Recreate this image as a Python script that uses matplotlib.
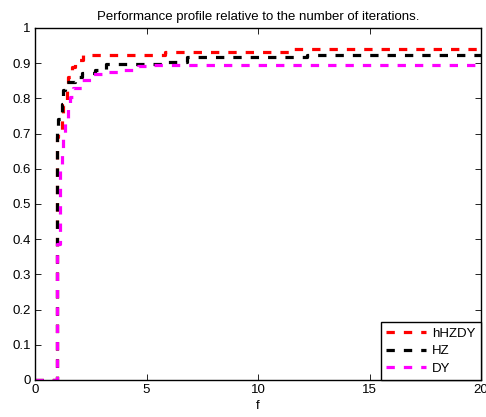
import numpy as np
import matplotlib
matplotlib.use('Agg')
import matplotlib.pyplot as plt

plt.rcParams['font.family'] = ['Liberation Sans', 'DejaVu Sans']
plt.rcParams['lines.scale_dashes'] = False

### performance profile data (tau, rho)
tau_hhzdy = [0, 1.0, 1.05, 1.19, 1.27, 1.42, 1.49, 1.64, 1.79, 2.15, 2.6, 5.85, 11.5, 20]
rho_hhzdy = [0, 0.69, 0.70, 0.742, 0.78, 0.823, 0.86, 0.889, 0.908, 0.924, 0.924, 0.931, 0.939, 0.939]

tau_hz = [0, 1.0, 1.05, 1.2, 1.27, 1.34, 1.78, 2.09, 2.7, 3.2, 5.8, 6.8, 12.2, 20]
rho_hz = [0, 0.709, 0.742, 0.785, 0.823, 0.846, 0.862, 0.873, 0.882, 0.898, 0.903, 0.917, 0.924, 0.924]

tau_dy = [0, 1.0, 1.12, 1.19, 1.27, 1.34, 1.49, 1.57, 1.71, 2.09, 2.54, 3.2, 3.95, 4.6, 5.3, 5.9, 20]
rho_dy = [0, 0.385, 0.605, 0.654, 0.69, 0.737, 0.775, 0.803, 0.829, 0.851, 0.870, 0.875, 0.881, 0.891, 0.896, 0.896, 0.896]

labels = ['hHZDY', 'HZ', 'DY']
colors = ['#ff0000', '#000000', '#ff00ff']

fig = plt.figure(figsize=(4.86, 4.17), dpi=100)
ax = fig.add_axes([35/486, 1 - 380/417, 446/486, 352/417])

dash = (6, 6.5)
for t, r, lab, c in zip([tau_hhzdy, tau_hz, tau_dy], [rho_hhzdy, rho_hz, rho_dy], labels, colors):
    ax.step(t, r, where='post', color=c, linewidth=2.3, dashes=dash, label=lab)

ax.set_xlim(0, 20)
ax.set_ylim(0, 1)
ax.set_xticks([0, 5, 10, 15, 20])
ax.set_yticks(np.arange(0, 1.01, 0.1))
ax.set_yticklabels(['0', '0.1', '0.2', '0.3', '0.4', '0.5', '0.6', '0.7', '0.8', '0.9', '1'])
ax.tick_params(direction='in', top=True, right=True, length=4, width=0.6, labelsize=9.5, pad=3)
for s in ax.spines.values():
    s.set_linewidth(1.0)

ax.set_xlabel('f', fontsize=9.5, labelpad=3)
ax.set_title('Performance profile relative to the number of iterations.', fontsize=9.5, pad=6)

leg = ax.legend(loc='lower right', borderaxespad=0, fontsize=9.5, fancybox=False,
                edgecolor='black', framealpha=1, handlelength=3.0, handletextpad=0.5,
                labelspacing=0.4, borderpad=0.4)
leg.get_frame().set_linewidth(1.0)

fig.savefig('out.png', dpi=100)
